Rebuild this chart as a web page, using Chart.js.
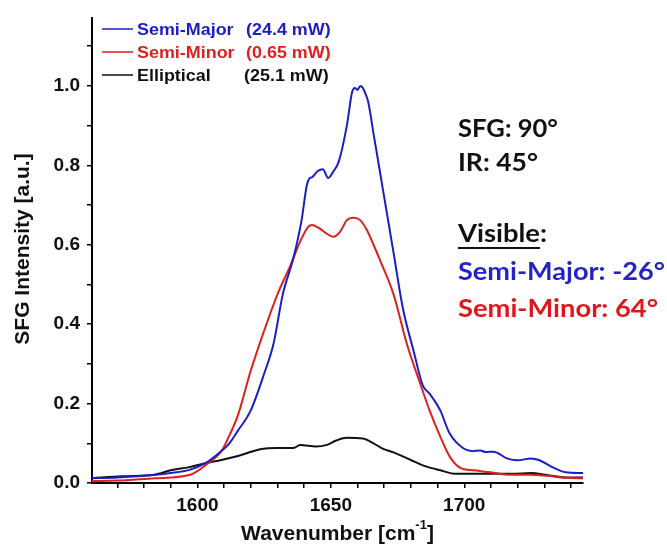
<!DOCTYPE html>
<html>
<head>
<meta charset="utf-8">
<script src="https://cdn.jsdelivr.net/npm/chart.js@4/dist/chart.umd.min.js"></script>
<style>
  html, body { margin: 0; padding: 0; background: #fff; }
  #wrap { width: 667px; height: 546px; }
</style>
</head>
<body>
<div id="wrap"><canvas id="myChart" width="667" height="546"></canvas></div>
<script>
// values (wavenumber in cm-1, intensity in a.u.)
const wnMajor = [1560, 1570, 1580, 1590, 1597, 1603, 1608, 1612, 1615, 1620, 1625, 1628.5, 1632, 1636, 1639, 1641, 1642, 1643, 1645, 1647, 1649, 1651, 1653, 1656, 1658, 1659, 1660, 1661, 1662, 1663, 1664, 1666, 1668.5, 1671, 1673.5, 1677, 1681, 1684.5, 1687, 1691, 1694.5, 1699.5, 1703, 1706, 1708, 1711, 1716, 1720, 1725, 1728, 1733, 1738, 1745];
const semiMajor = [0.012, 0.014, 0.018, 0.025, 0.033, 0.05, 0.075, 0.10, 0.13, 0.183, 0.275, 0.35, 0.475, 0.567, 0.66, 0.75, 0.767, 0.77, 0.785, 0.79, 0.768, 0.785, 0.81, 0.90, 0.985, 0.995, 0.99, 1.0, 0.995, 0.98, 0.96, 0.88, 0.78, 0.68, 0.58, 0.44, 0.333, 0.245, 0.225, 0.183, 0.125, 0.088, 0.08, 0.082, 0.078, 0.079, 0.062, 0.057, 0.062, 0.058, 0.04, 0.027, 0.025];

const wnMinor = [1560, 1570, 1584, 1597, 1604, 1609, 1612, 1615, 1620, 1625, 1630, 1635, 1638.5, 1641.5, 1643, 1646, 1648, 1651, 1653.5, 1656, 1658.5, 1661, 1663.5, 1666, 1668.5, 1673.5, 1678.5, 1683.5, 1687, 1691, 1694.5, 1698.5, 1703.5, 1710, 1716, 1725, 1731, 1738, 1745];
const semiMinor = [0.005, 0.006, 0.012, 0.02, 0.05, 0.08, 0.12, 0.167, 0.283, 0.383, 0.475, 0.55, 0.608, 0.645, 0.65, 0.64, 0.63, 0.62, 0.633, 0.662, 0.668, 0.662, 0.637, 0.60, 0.56, 0.475, 0.35, 0.25, 0.183, 0.117, 0.067, 0.038, 0.032, 0.027, 0.021, 0.021, 0.018, 0.013, 0.012];

const wnEll = [1560, 1572, 1584, 1590, 1597, 1603, 1609, 1614, 1618.5, 1623.5, 1630, 1636, 1638.5, 1644.5, 1648.5, 1652, 1656, 1662, 1666, 1669, 1673.5, 1680, 1685, 1691, 1697, 1706, 1718, 1725, 1731, 1738, 1745];
const elliptical = [0.012, 0.017, 0.021, 0.032, 0.04, 0.05, 0.058, 0.066, 0.075, 0.085, 0.088, 0.088, 0.096, 0.092, 0.096, 0.107, 0.114, 0.112, 0.10, 0.088, 0.077, 0.058, 0.043, 0.032, 0.023, 0.023, 0.023, 0.025, 0.02, 0.014, 0.014];

const seriesNames = ['Semi-Major', 'Semi-Minor', 'Elliptical'];
const seriesPower = ['(24.4 mW)', '(0.65 mW)', '(25.1 mW)'];
const seriesColors = ['#1d1dc4', '#de2020', '#111111'];

const xTickValues = [1570, 1580, 1590, 1600, 1610, 1620, 1630, 1640, 1650, 1660, 1670, 1680, 1690, 1700, 1710, 1720, 1730, 1740];
const xTickLabels = [1600, 1650, 1700];
const yTickValues = [0.0, 0.1, 0.2, 0.3, 0.4, 0.5, 0.6, 0.7, 0.8, 0.9, 1.0, 1.1];
const yTickLabels = ['0.0', '0.2', '0.4', '0.6', '0.8', '1.0'];

const annotationLines = [
    { text: 'SFG: 90°', color: '#111111', base: 137, width: 100 },
    { text: 'IR: 45°', color: '#111111', base: 171, width: 80 },
    { text: 'Visible:', color: '#111111', base: 242, width: 89, underline: 'Visible' },
    { text: 'Semi-Major: -26°', color: '#2323c8', base: 280, width: 207 },
    { text: 'Semi-Minor: 64°', color: '#e0161c', base: 317, width: 200 }
];

function toPoints(xs, ys) {
    return xs.map((x, i) => ({ x: x, y: ys[i] }));
}

function stretchedText(ctx, text, x, y, sx) {
    ctx.save();
    ctx.translate(x, y);
    ctx.scale(sx, 1);
    ctx.fillText(text, 0, 0);
    ctx.restore();
    return ctx.measureText(text).width * sx;
}

const textPlugin = {
    id: 'textPlugin',
    afterDraw: (chart) => {
        const ctx = chart.ctx;
        ctx.save();
        ctx.textAlign = 'left';
        ctx.textBaseline = 'alphabetic';

        // legend box, top left inside plot
        const rowBase = [35, 58, 81];
        ctx.font = 'bold 16px "Liberation Sans", Arial, sans-serif';
        seriesNames.forEach((name, i) => {
            const ds = chart.data.datasets[i];
            ctx.strokeStyle = ds.borderColor;
            ctx.lineWidth = 1.5;
            ctx.beginPath();
            ctx.moveTo(102, rowBase[i] - 6);
            ctx.lineTo(133, rowBase[i] - 6);
            ctx.stroke();
            ctx.fillStyle = i === 2 ? '#111' : ds.borderColor;
            stretchedText(ctx, name, 137, rowBase[i], 1.12);
            stretchedText(ctx, seriesPower[i], i === 2 ? 244 : 246, rowBase[i], 1.12);
        });

        // angle notes on the right
        ctx.font = 'bold 24px Lato, "Open Sans", sans-serif';
        annotationLines.forEach((line) => {
            ctx.fillStyle = line.color;
            const sx = line.width / ctx.measureText(line.text).width;
            stretchedText(ctx, line.text, 458, line.base, sx);
            if (line.underline) {
                const w = ctx.measureText(line.underline).width * sx;
                ctx.fillRect(458, line.base + 5, w, 2);
            }
        });

        // axis titles
        ctx.fillStyle = '#111';
        ctx.font = 'bold 21px "Liberation Sans", Arial, sans-serif';
        const xa = chart.scales.x;
        const part1 = 'Wavenumber [cm';
        const w1 = ctx.measureText(part1).width;
        ctx.font = 'bold 13px "Liberation Sans", Arial, sans-serif';
        const wSup = ctx.measureText('-1').width;
        ctx.font = 'bold 21px "Liberation Sans", Arial, sans-serif';
        const w2 = ctx.measureText(']').width;
        const total = w1 + wSup + w2;
        let tx = (xa.left + xa.right) / 2 - total / 2;
        ctx.fillText(part1, tx, 540);
        ctx.font = 'bold 13px "Liberation Sans", Arial, sans-serif';
        ctx.fillText('-1', tx + w1, 529);
        ctx.font = 'bold 21px "Liberation Sans", Arial, sans-serif';
        ctx.fillText(']', tx + w1 + wSup, 540);

        ctx.translate(29, 249);
        ctx.rotate(-Math.PI / 2);
        ctx.textAlign = 'center';
        ctx.fillText('SFG Intensity [a.u.]', 0, 0);
        ctx.restore();
    }
};

const tickFont = { family: '"Liberation Sans", Arial, sans-serif', size: 19, weight: 'bold' };

const configuration = {
    type: 'line',
    data: {
        datasets: [
            { label: seriesNames[0], data: toPoints(wnMajor, semiMajor), borderColor: seriesColors[0] },
            { label: seriesNames[1], data: toPoints(wnMinor, semiMinor), borderColor: seriesColors[1] },
            { label: seriesNames[2], data: toPoints(wnEll, elliptical), borderColor: seriesColors[2] }
        ].map(ds => Object.assign(ds, {
            borderWidth: 2,
            pointRadius: 0,
            fill: false,
            cubicInterpolationMode: 'monotone'
        }))
    },
    options: {
        responsive: false,
        animation: false,
        layout: { padding: { top: 15, right: 84, left: 0, bottom: 0 } },
        plugins: {
            legend: { display: false },
            tooltip: { enabled: false }
        },
        scales: {
            x: {
                type: 'linear',
                min: 1560.5,
                max: 1744.5,
                border: { color: '#000', width: 2 },
                grid: { drawOnChartArea: false, drawTicks: true, tickLength: 5, color: '#000', lineWidth: 1.5 },
                afterBuildTicks: (scale) => { scale.ticks = xTickValues.map(v => ({ value: v })); },
                afterFit: (scale) => { scale.height = 63; },
                ticks: {
                    autoSkip: false,
                    maxRotation: 0,
                    padding: 6,
                    color: '#111',
                    font: tickFont,
                    callback: (v) => xTickLabels.includes(v) ? String(v) : ''
                }
            },
            y: {
                type: 'linear',
                min: 0,
                max: 1.17,
                border: { color: '#000', width: 2 },
                grid: { drawOnChartArea: false, drawTicks: true, tickLength: 5, color: '#000', lineWidth: 1.5 },
                afterBuildTicks: (scale) => { scale.ticks = yTickValues.map(v => ({ value: v })); },
                afterFit: (scale) => { scale.width = 92; },
                ticks: {
                    autoSkip: false,
                    padding: 7,
                    color: '#111',
                    font: tickFont,
                    callback: (v) => {
                        const s = v.toFixed(1);
                        return yTickLabels.includes(s) ? s : '';
                    }
                }
            }
        }
    },
    plugins: [textPlugin]
};

new Chart(document.getElementById('myChart'), configuration);
</script>
</body>
</html>
